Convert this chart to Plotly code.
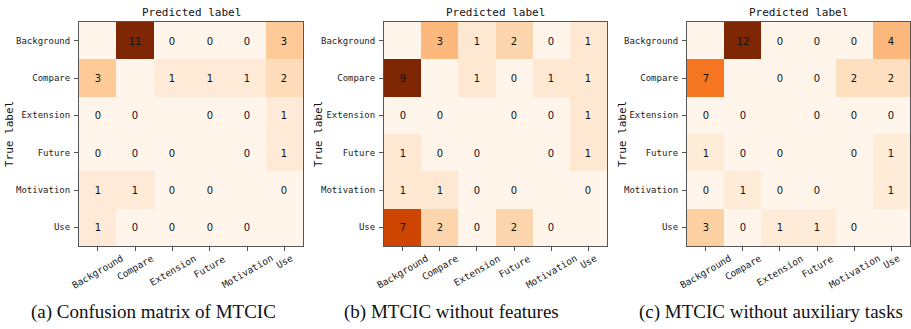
import plotly.graph_objects as go

labels = ["Background", "Compare", "Extension", "Future", "Motivation", "Use"]

# rows = true label, cols = predicted label; diagonal left blank (None)
cm_a = [
    [None, 11, 0, 0, 0, 3],
    [3, None, 1, 1, 1, 2],
    [0, 0, None, 0, 0, 1],
    [0, 0, 0, None, 0, 1],
    [1, 1, 0, 0, None, 0],
    [1, 0, 0, 0, 0, None],
]
cm_b = [
    [None, 3, 1, 2, 0, 1],
    [9, None, 1, 0, 1, 1],
    [0, 0, None, 0, 0, 1],
    [1, 0, 0, None, 0, 1],
    [1, 1, 0, 0, None, 0],
    [7, 2, 0, 2, 0, None],
]
cm_c = [
    [None, 12, 0, 0, 0, 4],
    [7, None, 0, 0, 2, 2],
    [0, 0, None, 0, 0, 0],
    [1, 0, 0, None, 0, 1],
    [0, 1, 0, 0, None, 1],
    [3, 0, 1, 1, 0, None],
]
captions = [
    "(a) Confusion matrix of MTCIC",
    "(b) MTCIC without features",
    "(c) MTCIC without auxiliary tasks",
]

W, H = 911, 329
x_dom_px = [(79, 303), (384, 607), (687, 910)]
y_dom_px = (22, 246)
ylab_x_px = [9, 318, 622]
cap_x_px = [153, 451, 771]

oranges = [
    [0.0, "#fff5eb"], [0.125, "#fee6ce"], [0.25, "#fdd0a2"], [0.375, "#fdae6b"],
    [0.5, "#fd8d3c"], [0.625, "#f16913"], [0.75, "#d94801"], [0.875, "#a63603"],
    [1.0, "#7f2704"],
]

fig = go.Figure()
mats = [cm_a, cm_b, cm_c]
tickfont = dict(family="DejaVu Sans Mono", size=9, color="#222")
n = len(labels)
for i, cm in enumerate(mats):
    vals = [v for row in cm for v in row if v is not None]
    text = [["" if v is None else str(v) for v in row] for row in cm]
    xa = "x" if i == 0 else f"x{i+1}"
    ya = "y" if i == 0 else f"y{i+1}"
    fig.add_trace(go.Heatmap(
        z=cm, x=labels, y=labels, text=text, texttemplate="%{text}",
        textfont=dict(family="DejaVu Sans", size=10, color="#111"),
        colorscale=oranges, zmin=0, zmax=max(vals), showscale=False,
        xaxis=xa, yaxis=ya, xgap=0, ygap=0,
    ))
    x0, x1 = x_dom_px[i]
    axx = dict(domain=[x0 / W, x1 / W], anchor=ya, showticklabels=False,
               range=[-0.5, n - 0.5], autorange=False,
               showline=True, mirror=True, linecolor="#555", linewidth=1,
               ticks="outside", ticklen=4, tickcolor="#555", showgrid=False,
               zeroline=False, automargin=False)
    axy = dict(domain=[(H - y_dom_px[1]) / H, (H - y_dom_px[0]) / H], anchor=xa,
               range=[n - 0.5, -0.5], autorange=False,
               tickfont=tickfont, ticklabelstandoff=2,
               showline=True, mirror=True, linecolor="#555", linewidth=1,
               ticks="outside", ticklen=4, tickcolor="#555", showgrid=False,
               zeroline=False, automargin=False)
    fig.layout[f"xaxis{'' if i == 0 else i+1}"] = axx
    fig.layout[f"yaxis{'' if i == 0 else i+1}"] = axy
    # rotated x tick labels, centred under each tick
    for lab in labels:
        fig.add_annotation(x=lab, xref=xa, y=(H - 250) / H, yref="paper",
                           text=lab, showarrow=False, textangle=-30,
                           xanchor="center", yanchor="top",
                           font=dict(family="DejaVu Sans Mono", size=9.5, color="#222"))
    # titles
    fig.add_annotation(x=(x0 + x1) / 2 / W, y=(H - 13) / H, xref="paper", yref="paper",
                       text="Predicted label", showarrow=False, xanchor="center",
                       yanchor="middle",
                       font=dict(family="DejaVu Sans Mono", size=11, color="#111"))
    fig.add_annotation(x=ylab_x_px[i] / W, y=(H - 134) / H, xref="paper", yref="paper",
                       text="True label", showarrow=False, textangle=-90,
                       xanchor="center", yanchor="middle",
                       font=dict(family="DejaVu Sans Mono", size=11, color="#111"))
    fig.add_annotation(x=cap_x_px[i] / W, y=(H - 312) / H, xref="paper", yref="paper",
                       text=captions[i], showarrow=False, xanchor="center",
                       yanchor="middle",
                       font=dict(family="Liberation Serif", size=19, color="#111"))

fig.update_layout(width=W, height=H, margin=dict(l=0, r=0, t=0, b=0),
                  paper_bgcolor="white", plot_bgcolor="#fff5eb", showlegend=False)
fig.write_html("out.html", config={"displayModeBar": False},
               post_script="document.body.style.margin='0';document.body.style.overflow='hidden';")
